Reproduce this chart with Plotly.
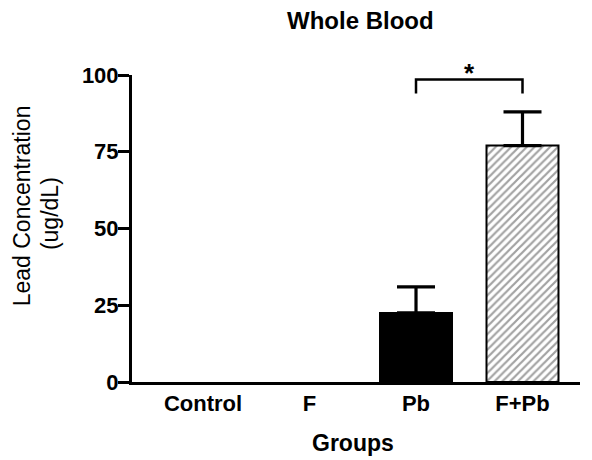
import plotly.graph_objects as go

groups = ["Control", "F", "Pb", "F+Pb"]
means = [0, 0, 22.5, 77]
errors_up = [0, 0, 8.5, 11]
fill_colors = ["white", "white", "black", "white"]
patterns = ["", "", "", "/"]
y_ticks = [0, 25, 50, 75, 100]
bracket_pair = ["Pb", "F+Pb"]
bracket_y = 98.5
bracket_leg = 94.0
star_y = 100.8

FONT = "Liberation Sans, Arial, sans-serif"

fig = go.Figure()
fig.add_trace(go.Bar(
    x=groups, y=means,
    width=0.676,
    marker=dict(color=fill_colors,
                line=dict(color="black", width=[0 if m == 0 else 2 for m in means]),
                pattern=dict(shape=patterns, fgcolor="black", bgcolor="white",
                             size=5.5, solidity=0.4, fillmode="overlay")),
    showlegend=False,
))

# error bars only where there is a value (drawn on the bar centres)
nz = [i for i, e in enumerate(errors_up) if e > 0]
fig.add_trace(go.Scatter(
    x=[groups[i] for i in nz], y=[means[i] for i in nz],
    mode="markers", marker=dict(size=0.1, color="black", opacity=0),
    error_y=dict(type="data", symmetric=False,
                 array=[errors_up[i] for i in nz], arrayminus=[0 for _ in nz],
                 color="black", thickness=3.2, width=19, visible=True),
    showlegend=False, hoverinfo="skip",
))

i0, i1 = groups.index(bracket_pair[0]), groups.index(bracket_pair[1])
fig.add_shape(type="path",
              path=f"M {i0},{bracket_leg} L {i0},{bracket_y} L {i1},{bracket_y} L {i1},{bracket_leg}",
              xref="x", yref="y", line=dict(color="black", width=2.5))
fig.add_annotation(x=(i0 + i1) / 2, y=star_y / 100, text="<b>*</b>", showarrow=False,
                   xref="x", yref="paper", yanchor="middle",
                   font=dict(family=FONT, size=26, color="black"))

# titles
fig.add_annotation(x=0.511, y=1.179, xref="paper", yref="paper", text="<b>Whole Blood</b>",
                   showarrow=False, xanchor="center", yanchor="middle",
                   font=dict(family=FONT, size=24, color="black"))
fig.add_annotation(x=-0.245, y=0.573, xref="paper", yref="paper", text="Lead Concentration",
                   textangle=-90, showarrow=False, xanchor="center", yanchor="middle",
                   font=dict(family=FONT, size=23, color="black"))
fig.add_annotation(x=-0.183, y=0.547, xref="paper", yref="paper", text="(ug/dL)",
                   textangle=-90, showarrow=False, xanchor="center", yanchor="middle",
                   font=dict(family=FONT, size=23, color="black"))
fig.add_annotation(x=0.493, y=-0.200, xref="paper", yref="paper", text="<b>Groups</b>",
                   showarrow=False, xanchor="center", yanchor="middle",
                   font=dict(family=FONT, size=23, color="black"))

# the page body adds an 8px margin, so the figure is drawn 8px smaller
fig.update_layout(
    width=584, height=452,
    margin=dict(l=124, r=12, t=67, b=78, autoexpand=False),
    plot_bgcolor="white", paper_bgcolor="white",
    font=dict(family=FONT, color="black"),
)
fig.update_xaxes(
    type="category", range=[-0.667, 3.54], automargin=False,
    showline=True, linecolor="black", linewidth=3,
    ticks="", tickfont=dict(family=FONT, size=22, color="black"),
    tickvals=groups, ticktext=[f"<b>{g}</b>" for g in groups],
    showgrid=False, zeroline=False,
)
fig.update_yaxes(
    range=[0, 100], tickvals=y_ticks, ticktext=[f"<b>{v}</b>" for v in y_ticks],
    automargin=False,
    showline=True, linecolor="black", linewidth=3,
    ticks="outside", ticklen=11, tickwidth=2.5, tickcolor="black",
    ticklabelstandoff=-5,
    tickfont=dict(family=FONT, size=22, color="black"),
    showgrid=False, zeroline=False,
)

fig.write_html("out.html")
